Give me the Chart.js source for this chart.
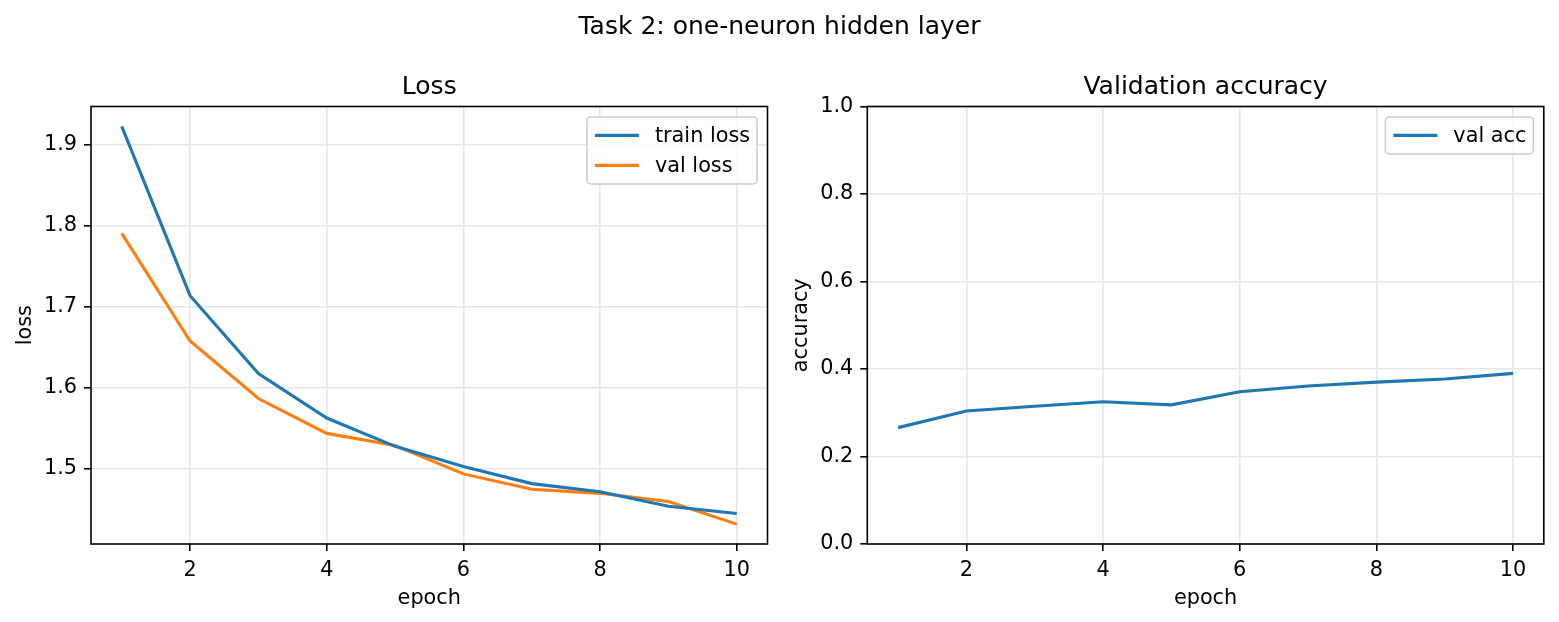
<!DOCTYPE html>
<html>
<head>
<meta charset="utf-8">
<script src="https://cdn.jsdelivr.net/npm/chart.js@4.4.1/dist/chart.umd.min.js"></script>
<style>
  html, body { margin: 0; padding: 0; background: #fff; }
  #wrap { position: relative; width: 1559px; height: 622px; overflow: hidden; }
  #suptitle {
    position: absolute; left: 0; top: 10.5px; width: 1559px;
    text-align: center; font: 25px/30px "DejaVu Sans", sans-serif; color: #000;
  }
  canvas { position: absolute; top: 0; }
</style>
</head>
<body>
<div id="wrap">
  <canvas id="lossChart" width="780" height="622" style="left:0"></canvas>
  <canvas id="accChart" width="779" height="622" style="left:780px"></canvas>
  <div id="suptitle">Task 2: one-neuron hidden layer</div>
</div>
<script>
const epochs = [1, 2, 3, 4, 5, 6, 7, 8, 9, 10];
const trainLoss = [1.923, 1.714, 1.618, 1.563, 1.528, 1.503, 1.482, 1.472, 1.454, 1.445];
const valLoss = [1.791, 1.658, 1.587, 1.544, 1.529, 1.494, 1.475, 1.470, 1.460, 1.432];
const valAcc = [0.266, 0.304, 0.315, 0.325, 0.318, 0.348, 0.361, 0.370, 0.377, 0.390];
const epochTicks = [2, 4, 6, 8, 10];
const lossTicks = [1.5, 1.6, 1.7, 1.8, 1.9];
const accTicks = [0, 0.2, 0.4, 0.6, 0.8, 1.0];

const BLUE = "#1f77b4";
const ORANGE = "#ff7f0e";
const FONT = 20.8;

Chart.defaults.font.family = "DejaVu Sans";
Chart.defaults.color = "#000";

// matplotlib-style 5% margins
function padRange(vals) {
  const lo = Math.min(...vals), hi = Math.max(...vals);
  const m = (hi - lo) * 0.05;
  return [lo - m, hi + m];
}
const [xMin, xMax] = padRange(epochs);
const [lossMin, lossMax] = padRange(trainLoss.concat(valLoss));

const toPoints = (ys) => ys.map((y, i) => ({ x: epochs[i], y }));

// four spines around the axes
const framePlugin = {
  id: "framePlugin",
  afterDatasetsDraw(chart) {
    const { ctx, chartArea: a } = chart;
    ctx.save();
    ctx.strokeStyle = "#000";
    ctx.lineWidth = 1.6;
    ctx.strokeRect(a.left, a.top, a.right - a.left, a.bottom - a.top);
    ctx.restore();
  }
};

// subplot title centred over the axes, not the canvas
const axesTitle = {
  id: "axesTitle",
  afterDraw(chart, args, opts) {
    const { ctx, chartArea: a } = chart;
    ctx.save();
    ctx.font = '25px "DejaVu Sans"';
    ctx.fillStyle = "#000";
    ctx.textAlign = "center";
    ctx.textBaseline = "alphabetic";
    ctx.fillText(opts.text, (a.left + a.right) / 2, a.top - 13);
    ctx.restore();
  }
};

// legend boxed inside the upper right corner
const boxLegend = {
  id: "boxLegend",
  afterDraw(chart) {
    const { ctx, chartArea } = chart;
    const sets = chart.data.datasets;
    ctx.save();
    ctx.font = FONT + 'px "DejaVu Sans"';
    const textW = Math.max(...sets.map((d) => ctx.measureText(d.label).width));
    const w = 68 + textW + 7;
    const h = sets.length * 30 + 7;
    const x = chartArea.right - 10.4 - w;
    const y = chartArea.top + 10.4;
    ctx.fillStyle = "rgba(255,255,255,0.8)";
    ctx.strokeStyle = "#cccccc";
    ctx.lineWidth = 1.5;
    ctx.beginPath();
    ctx.roundRect(x, y, w, h, 4);
    ctx.fill();
    ctx.stroke();
    sets.forEach((d, i) => {
      const cy = y + 18.5 + i * 30;
      ctx.strokeStyle = d.borderColor;
      ctx.lineWidth = d.borderWidth;
      ctx.beginPath();
      ctx.moveTo(x + 8, cy);
      ctx.lineTo(x + 52, cy);
      ctx.stroke();
      ctx.fillStyle = "#000";
      ctx.textBaseline = "middle";
      ctx.textAlign = "left";
      ctx.fillText(d.label, x + 68, cy + 1);
    });
    ctx.restore();
  }
};

const gridOpts = {
  color: "#e6e6e6",
  lineWidth: 1.6,
  tickColor: "#000",
  tickWidth: 1.6,
  tickLength: 7
};

function xScale() {
  return {
    type: "linear",
    min: xMin,
    max: xMax,
    afterBuildTicks: (s) => { s.ticks = epochTicks.map((v) => ({ value: v })); },
    afterFit: (s) => { s.height = 78; },
    ticks: { padding: 7, font: { size: FONT }, maxRotation: 0, autoSkip: false, callback: (v) => String(v) },
    grid: gridOpts,
    border: { display: false },
    title: { display: true, text: "epoch", font: { size: FONT }, padding: { top: 0, bottom: 11 } }
  };
}

function yScale(min, max, tickVals, label, width, titlePad) {
  return {
    type: "linear",
    min,
    max,
    afterBuildTicks: (s) => { s.ticks = tickVals.map((v) => ({ value: v })); },
    afterFit: (s) => { s.width = width; },
    ticks: { padding: 7, font: { size: FONT }, autoSkip: false, callback: (v) => v.toFixed(1) },
    grid: gridOpts,
    border: { display: false },
    title: { display: true, text: label, font: { size: FONT }, padding: { top: titlePad, bottom: 0 } }
  };
}

function baseOptions(title, padRight, scales) {
  return {
    responsive: false,
    animation: false,
    devicePixelRatio: 1,
    layout: { padding: { left: 0, top: 106.5, right: padRight, bottom: 0 } },
    plugins: {
      legend: { display: false },
      tooltip: { enabled: false },
      title: { display: false },
      axesTitle: { text: title }
    },
    elements: { point: { radius: 0 }, line: { tension: 0 } },
    scales
  };
}

new Chart(document.getElementById("lossChart"), {
  type: "line",
  data: {
    datasets: [
      { label: "train loss", data: toPoints(trainLoss), borderColor: BLUE, backgroundColor: BLUE, borderWidth: 3.1, fill: false },
      { label: "val loss", data: toPoints(valLoss), borderColor: ORANGE, backgroundColor: ORANGE, borderWidth: 3.1, fill: false }
    ]
  },
  options: baseOptions("Loss", 12.5, {
    x: xScale(),
    y: yScale(lossMin, lossMax, lossTicks, "loss", 91, 13.6)
  }),
  plugins: [framePlugin, axesTitle, boxLegend]
});

new Chart(document.getElementById("accChart"), {
  type: "line",
  data: {
    datasets: [
      { label: "val acc", data: toPoints(valAcc), borderColor: BLUE, backgroundColor: BLUE, borderWidth: 3.1, fill: false }
    ]
  },
  options: baseOptions("Validation accuracy", 15.2, {
    x: xScale(),
    y: yScale(0, 1, accTicks, "accuracy", 87.3, 9)
  }),
  plugins: [framePlugin, axesTitle, boxLegend]
});
</script>
</body>
</html>
